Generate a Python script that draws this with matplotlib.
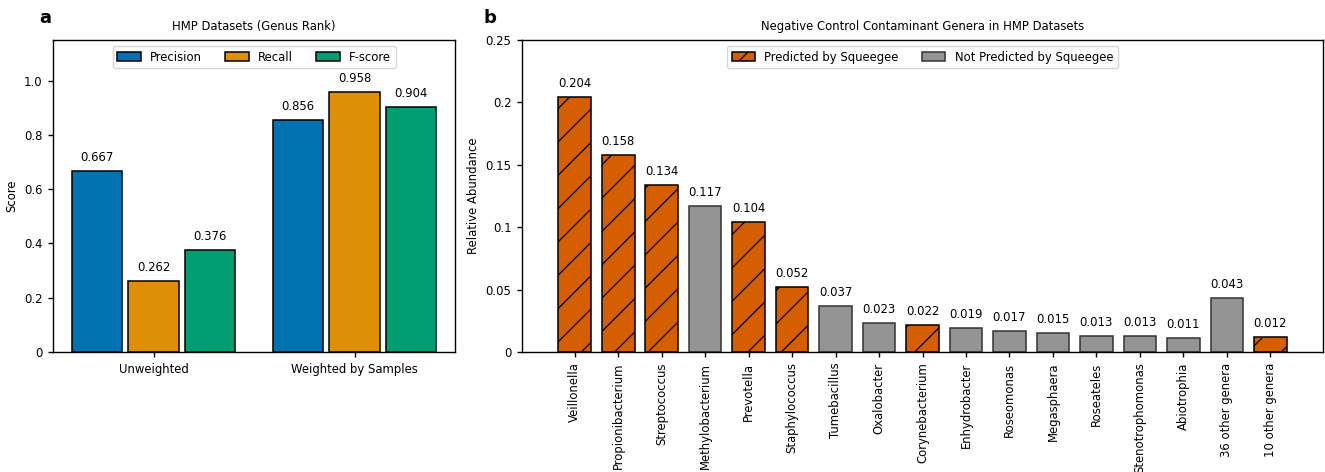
import numpy as np
import matplotlib
matplotlib.use("Agg")
import matplotlib.pyplot as plt
from matplotlib.ticker import FuncFormatter
from matplotlib.patches import Patch

# panel a data
groups = ["Unweighted", "Weighted by Samples"]
metrics = ["Precision", "Recall", "F-score"]
precision = [0.667, 0.856]
recall = [0.262, 0.958]
fscore = [0.376, 0.904]

# panel b data
genera = ["Veillonella", "Propionibacterium", "Streptococcus", "Methylobacterium",
          "Prevotella", "Staphylococcus", "Tumebacillus", "Oxalobacter",
          "Corynebacterium", "Enhydrobacter", "Roseomonas", "Megasphaera",
          "Roseateles", "Stenotrophomonas", "Abiotrophia", "36 other genera",
          "10 other genera"]
abundance = [0.204, 0.158, 0.134, 0.117, 0.104, 0.052, 0.037, 0.023, 0.022,
             0.019, 0.017, 0.015, 0.013, 0.013, 0.011, 0.043, 0.012]
predicted = [True, True, True, False, True, True, False, False, True,
             False, False, False, False, False, False, False, True]

FS = 8.4
plt.rcParams.update({
    "font.size": FS,
    "axes.titlesize": FS,
    "axes.labelsize": FS,
    "legend.fontsize": FS,
    "axes.linewidth": 1.0,
    "xtick.major.size": 3.6,
    "ytick.major.size": 3.6,
    "xtick.major.width": 1.0,
    "ytick.major.width": 1.0,
    "xtick.major.pad": 4.0,
    "ytick.major.pad": 4.0,
    "hatch.linewidth": 0.9,
})

fig = plt.figure(figsize=(13.25, 4.72), dpi=100)
ax1 = fig.add_axes([0.0400, 0.2542, 0.3034, 0.6610])
ax2 = fig.add_axes([0.3940, 0.2542, 0.6045, 0.6610])

colors = ["#0173b2", "#de8f05", "#029e73"]
x = np.arange(len(groups))
w = 0.25
off = 0.28
for i, (vals, name) in enumerate(zip([precision, recall, fscore], metrics)):
    b = ax1.bar(x + (i - 1) * off, vals, w, color=colors[i], edgecolor="black",
                linewidth=1.1, label=name)
    ax1.bar_label(b, labels=[f"{v:.3f}" for v in vals], padding=5)
ax1.set_xticks(x)
ax1.set_xticklabels(groups)
ax1.set_xlim(-0.5, 1.5)
ax1.set_ylim(0, 1.15)
ax1.set_yticks([0, 0.2, 0.4, 0.6, 0.8, 1.0])
ax1.yaxis.set_major_formatter(FuncFormatter(lambda v, p: "0" if v == 0 else f"{v:.1f}"))
ax1.set_ylabel("Score")
ax1.set_title("HMP Datasets (Genus Rank)", pad=7)
ax1.legend(loc="upper center", ncol=3)

orange = "#d55e00"
gray = "#949494"
xb = np.arange(len(genera))
for xi, v, p in zip(xb, abundance, predicted):
    b = ax2.bar(xi, v, 0.75, color=orange if p else gray,
                edgecolor="black" if p else "#333333",
                linewidth=1.1, hatch="/" if p else None)
    ax2.bar_label(b, labels=[f"{v:.3f}"], padding=5)
ax2.set_xticks(xb)
ax2.set_xticklabels(genera, rotation=90)
ax2.set_ylim(0, 0.25)
ax2.set_yticks([0, 0.05, 0.1, 0.15, 0.2, 0.25])
ax2.yaxis.set_major_formatter(FuncFormatter(lambda v, p: f"{v:g}"))
ax2.set_ylabel("Relative Abundance")
ax2.set_title("Negative Control Contaminant Genera in HMP Datasets", pad=7)
handles = [Patch(facecolor=orange, edgecolor="black", hatch="/", linewidth=1.1,
                 label="Predicted by Squeegee"),
           Patch(facecolor=gray, edgecolor="#333333", linewidth=1.1,
                 label="Not Predicted by Squeegee")]
ax2.legend(handles=handles, loc="upper center", ncol=2)

fig.text(45 / 1325, 1 - 18 / 472, "a", fontsize=13, fontweight="bold", ha="center", va="center")
fig.text(490 / 1325, 1 - 18 / 472, "b", fontsize=13, fontweight="bold", ha="center", va="center")

fig.savefig("out.png", dpi=100)
